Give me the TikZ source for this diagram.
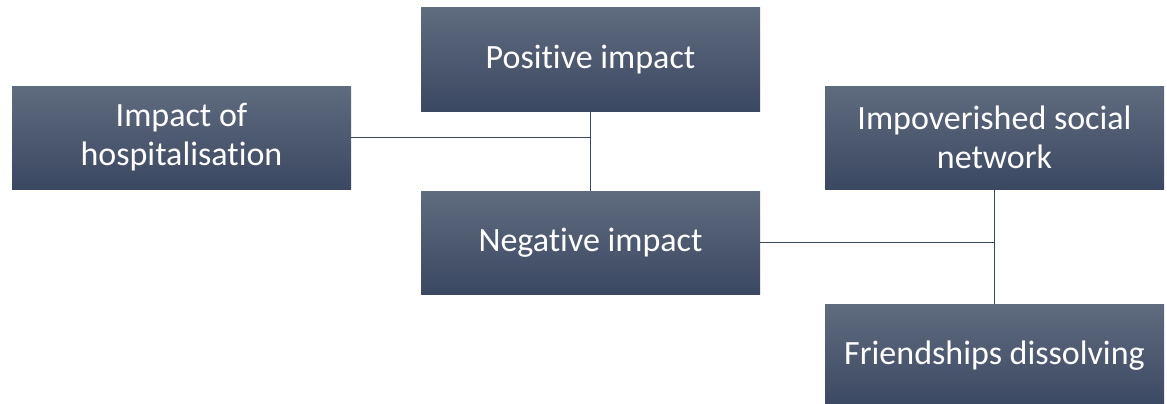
\documentclass[tikz,border=0pt]{standalone}
\usepackage{fontspec}
\setmainfont{Carlito}[Ligatures={NoCommon}]
\usetikzlibrary{calc}

\definecolor{boxtop}{HTML}{5F6B7E}
\definecolor{boxbot}{HTML}{3B4862}
\definecolor{linkcol}{HTML}{3B4862}

\begin{document}
\begin{tikzpicture}[x=1pt,y=-1pt,
    themebox/.style={rectangle, minimum width=339pt, minimum height=103pt,
        inner sep=0pt, top color=boxtop, bottom color=boxbot, draw=none,
        text=white, align=center, font=\fontsize{34}{39}\selectfont},
    link/.style={draw=linkcol, line width=1.4pt}]

% Canvas
\useasboundingbox (0,0) rectangle (1167,404);

% Boxes
\node[themebox] (impact) at (181.5,137.5) {Impact of\\hospitalisation};
\node[themebox] (positive) at (590.5,59.5) {Positive impact};
\node[themebox] (negative) at (590.5,242.5) {Negative impact};
\node[themebox] (network) at (994.5,137.5) {Impoverished social\\network};
\node[themebox] (friends) at (994.5,355.5) {Friendships dissolving};

% Connectors
\draw[link] (positive.south) -- (negative.north);
\draw[link] (impact.east) -- (impact.east -| positive.south);
\draw[link] (network.south) -- (friends.north);
\draw[link] (negative.east) -- (negative.east -| network.south);

\end{tikzpicture}
\end{document}
